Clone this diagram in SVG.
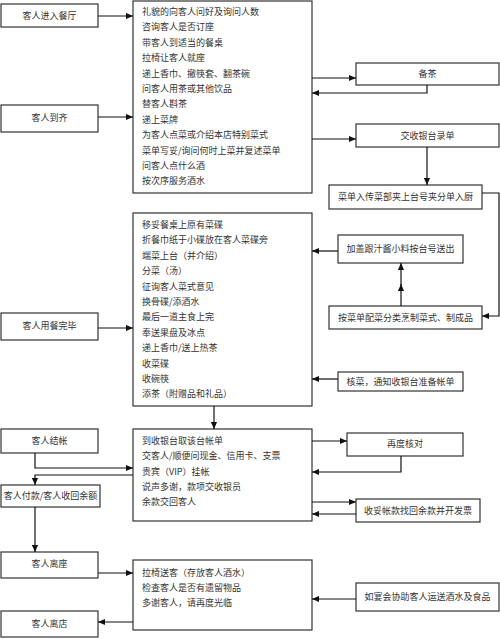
<svg xmlns="http://www.w3.org/2000/svg" width="500" height="639" viewBox="0 0 500 639">
<defs>
<marker id="ah" viewBox="0 0 8 8" refX="8" refY="4" markerWidth="7" markerHeight="7" markerUnits="userSpaceOnUse" orient="auto">
<path d="M0,0.5 L8,4 L0,7.5 Z" fill="#111"/>
</marker>
<style>
.box{fill:#fff;stroke:#333;stroke-width:1.2}
.t{font-family:"Noto Sans CJK SC","Liberation Serif",serif;font-size:9px;fill:#333}
.c{text-anchor:middle}
.ln{fill:none;stroke:#111;stroke-width:1.2;marker-end:url(#ah)}
</style>
</defs>
<rect width="500" height="639" fill="#fff"/>

<g id="n-enter"><rect class="box" x="1" y="4" width="97" height="23"/><text class="t c" x="49.5" y="19">客人进入餐厅</text></g>
<g id="n-arrive"><rect class="box" x="1" y="105" width="97" height="27"/><text class="t c" x="49.5" y="121">客人到齐</text></g>
<g id="n-finish"><rect class="box" x="1" y="313" width="97" height="27"/><text class="t c" x="49.5" y="329">客人用餐完毕</text></g>
<g id="n-checkout"><rect class="box" x="1" y="429" width="97" height="24"/><text class="t c" x="49.5" y="444">客人结帐</text></g>
<g id="n-pay"><rect class="box" x="1" y="485" width="99" height="22"/><text class="t c" x="50.5" y="499">客人付款/客人收回余额</text></g>
<g id="n-leaveseat"><rect class="box" x="1" y="552" width="97" height="26"/><text class="t c" x="49.5" y="567">客人离座</text></g>
<g id="n-leave"><rect class="box" x="1" y="611" width="97" height="26"/><text class="t c" x="49.5" y="627">客人离店</text></g>

<g id="n-steps1"><rect class="box" x="133" y="1" width="179" height="192"/>
<text class="t" x="142" y="15">礼貌的向客人问好及询问人数</text>
<text class="t" x="142" y="30.4">咨询客人是否订座</text>
<text class="t" x="142" y="45.8">带客人到适当的餐桌</text>
<text class="t" x="142" y="61.2">拉椅让客人就座</text>
<text class="t" x="142" y="76.6">递上香巾、撤筷套、翻茶碗</text>
<text class="t" x="142" y="92">问客人用茶或其他饮品</text>
<text class="t" x="142" y="107.4">替客人斟茶</text>
<text class="t" x="142" y="122.8">递上菜牌</text>
<text class="t" x="142" y="138.2">为客人点菜或介绍本店特别菜式</text>
<text class="t" x="142" y="153.6">菜单写妥/询问何时上菜并复述菜单</text>
<text class="t" x="142" y="169">问客人点什么酒</text>
<text class="t" x="142" y="184.4">按次序服务酒水</text>
</g>

<g id="n-steps2"><rect class="box" x="133" y="213" width="179" height="193"/>
<text class="t" x="142" y="228">移妥餐桌上原有菜碟</text>
<text class="t" x="142" y="243.4">折餐巾纸于小碟放在客人菜碟旁</text>
<text class="t" x="142" y="258.8">端菜上台（并介绍）</text>
<text class="t" x="142" y="274.2">分菜（汤）</text>
<text class="t" x="142" y="289.6">征询客人菜式意见</text>
<text class="t" x="142" y="305">换骨碟/添酒水</text>
<text class="t" x="142" y="320.4">最后一道主食上完</text>
<text class="t" x="142" y="335.8">奉送果盘及冰点</text>
<text class="t" x="142" y="351.2">递上香巾/送上热茶</text>
<text class="t" x="142" y="366.6">收菜碟</text>
<text class="t" x="142" y="382">收碗筷</text>
<text class="t" x="142" y="397.4">添茶（附赠品和礼品）</text>
</g>

<g id="n-steps3"><rect class="box" x="133" y="429" width="179" height="92"/>
<text class="t" x="142" y="444">到收银台取该台帐单</text>
<text class="t" x="142" y="459.3">交客人/顺便问现金、信用卡、支票</text>
<text class="t" x="142" y="474.6">贵宾（VIP）挂帐</text>
<text class="t" x="142" y="489.9">说声多谢，款项交收银员</text>
<text class="t" x="142" y="505.2">余款交回客人</text>
</g>

<g id="n-steps4"><rect class="box" x="133" y="560" width="179" height="70"/>
<text class="t" x="142" y="576">拉椅送客（存放客人酒水）</text>
<text class="t" x="142" y="591">检查客人是否有遗留物品</text>
<text class="t" x="142" y="606">多谢客人，请再度光临</text>
</g>

<g id="n-tea"><rect class="box" x="356" y="63" width="143" height="22"/><text class="t c" x="427.5" y="77">备茶</text></g>
<g id="n-order"><rect class="box" x="356" y="124" width="143" height="23"/><text class="t c" x="427.5" y="139">交收银台录单</text></g>
<g id="n-kitchen"><rect class="box" x="329" y="185" width="153" height="24"/><text class="t c" x="405.5" y="200">菜单入传菜部夹上台号夹分单入厨</text></g>
<g id="n-sauce"><rect class="box" x="338" y="235" width="125" height="28"/><text class="t c" x="400.5" y="252">加盖跟汁酱小料按台号送出</text></g>
<g id="n-cook"><rect class="box" x="329" y="306" width="153" height="23"/><text class="t c" x="405.5" y="321">按菜单配菜分类烹制菜式、制成品</text></g>
<g id="n-bill"><rect class="box" x="338" y="372" width="125" height="19"/><text class="t c" x="400.5" y="385">核菜，通知收银台准备帐单</text></g>
<g id="n-recheck"><rect class="box" x="347" y="433" width="116" height="23"/><text class="t c" x="405" y="447">再度核对</text></g>
<g id="n-receipt"><rect class="box" x="356" y="499" width="124" height="23"/><text class="t c" x="418" y="514">收妥帐款找回余款并开发票</text></g>
<g id="n-banquet"><rect class="box" x="356" y="583" width="143" height="28"/><text class="t c" x="427.5" y="600">如宴会协助客人运送酒水及食品</text></g>

<g id="connectors">
<path class="ln" d="M98,16 H133"/>
<path class="ln" d="M98,117 H133"/>
<path class="ln" d="M312,78 H356"/>
<path class="ln" d="M427,85 V93 H312"/>
<path class="ln" d="M312,139 H356"/>
<path class="ln" d="M427,147 V185"/>
<path class="ln" d="M482,193 H499 V316 H482"/>
<path class="ln" d="M338,251 H312"/>
<path class="ln" d="M401,306 V284"/>
<path class="ln" d="M401,285 V263"/>
<path class="ln" d="M338,379 H312"/>
<path class="ln" d="M98,328 H133"/>
<path class="ln" d="M214,406 V429"/>
<path class="ln" d="M35,453 V468 H133"/>
<path class="ln" d="M133,475 H35 V485"/>
<path class="ln" d="M35,507 V552"/>
<path class="ln" d="M98,573 H133"/>
<path class="ln" d="M133,622 H98"/>
<path class="ln" d="M312,441 H347"/>
<path class="ln" d="M401,456 V472 H312"/>
<path class="ln" d="M312,502 H356"/>
<path class="ln" d="M356,514 H312"/>
<path class="ln" d="M356,599 H312"/>
</g>
</svg>
